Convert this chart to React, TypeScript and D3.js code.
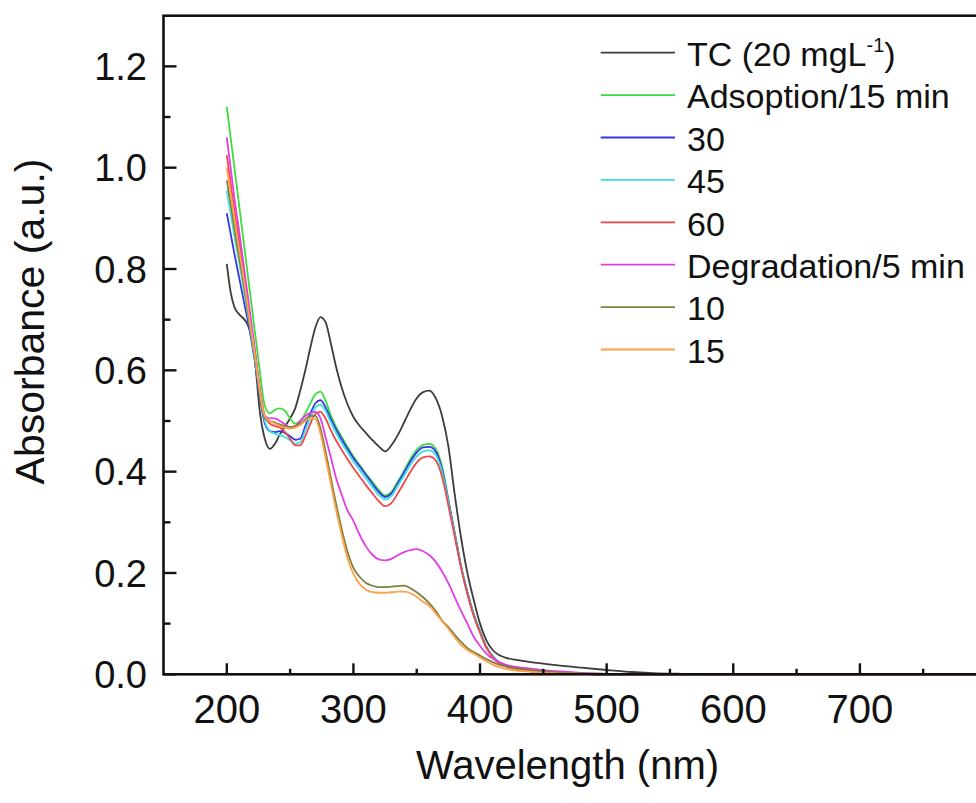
import React from "react";
import * as d3 from "d3";

const wavelengths = [200,203,206,210,214,218,222,226,230,234,238,242,246,250,254,258,262,266,270,274,278,282,286,290,295,300,305,310,315,320,325,330,335,340,345,350,355,360,365,370,375,380,385,390,395,400,405,410,415,420,430,440,450,460,480,500,520,540,560,600,650,700,750,800];

const tc = [0.81,0.755,0.725,0.71,0.7,0.68,0.625,0.52,0.465,0.445,0.455,0.474,0.49,0.505,0.525,0.56,0.6,0.645,0.685,0.705,0.695,0.655,0.61,0.572,0.535,0.508,0.49,0.476,0.462,0.45,0.44,0.452,0.472,0.497,0.523,0.545,0.557,0.56,0.545,0.51,0.45,0.355,0.27,0.2,0.147,0.1,0.067,0.048,0.038,0.033,0.028,0.024,0.021,0.018,0.013,0.0085,0.0045,0.002,0.001,0,0,0,0,0];
const ads15 = [1.12,1.06,1.0,0.92,0.84,0.76,0.68,0.6,0.53,0.515,0.522,0.525,0.52,0.505,0.495,0.5,0.515,0.535,0.553,0.558,0.54,0.512,0.49,0.472,0.45,0.43,0.413,0.396,0.38,0.364,0.353,0.36,0.38,0.402,0.425,0.443,0.453,0.455,0.445,0.41,0.345,0.28,0.215,0.163,0.12,0.085,0.054,0.035,0.022,0.016,0.01,0.006,0.003,0.002,0.001,0,0,0,0,0,0,0,0,0];
const ads30 = [0.91,0.87,0.83,0.78,0.73,0.68,0.62,0.55,0.495,0.48,0.478,0.48,0.476,0.47,0.463,0.465,0.49,0.515,0.535,0.541,0.527,0.505,0.485,0.467,0.446,0.427,0.41,0.393,0.376,0.36,0.35,0.357,0.377,0.398,0.42,0.438,0.448,0.449,0.44,0.405,0.343,0.278,0.213,0.162,0.118,0.084,0.054,0.036,0.024,0.018,0.012,0.008,0.005,0.003,0.001,0,0,0,0,0,0,0,0,0];
const ads45 = [0.955,0.91,0.865,0.81,0.75,0.69,0.625,0.555,0.5,0.48,0.475,0.472,0.468,0.462,0.455,0.458,0.482,0.507,0.527,0.532,0.52,0.498,0.478,0.46,0.44,0.42,0.403,0.386,0.37,0.354,0.345,0.352,0.372,0.392,0.413,0.43,0.44,0.442,0.433,0.4,0.34,0.276,0.212,0.16,0.117,0.083,0.053,0.035,0.023,0.017,0.011,0.007,0.004,0.002,0.001,0,0,0,0,0,0,0,0,0];
const ads60 = [1.025,0.97,0.915,0.85,0.78,0.71,0.64,0.565,0.51,0.495,0.49,0.487,0.478,0.465,0.452,0.452,0.47,0.495,0.514,0.518,0.505,0.483,0.463,0.446,0.426,0.407,0.39,0.373,0.357,0.342,0.332,0.338,0.357,0.378,0.4,0.418,0.428,0.43,0.422,0.39,0.333,0.272,0.21,0.158,0.115,0.082,0.052,0.034,0.022,0.016,0.01,0.006,0.004,0.002,0.001,0,0,0,0,0,0,0,0,0];
const deg5 = [1.06,1.0,0.94,0.87,0.795,0.72,0.645,0.565,0.51,0.505,0.505,0.5,0.493,0.488,0.49,0.5,0.51,0.516,0.518,0.505,0.468,0.43,0.39,0.36,0.325,0.303,0.275,0.252,0.236,0.227,0.225,0.228,0.235,0.241,0.245,0.247,0.243,0.235,0.222,0.203,0.18,0.152,0.125,0.1,0.074,0.056,0.041,0.031,0.024,0.019,0.014,0.011,0.008,0.006,0.003,0.001,0,0,0,0,0,0,0,0];
const deg10 = [0.975,0.93,0.88,0.82,0.76,0.695,0.63,0.555,0.505,0.5,0.497,0.493,0.49,0.488,0.49,0.495,0.503,0.51,0.51,0.485,0.44,0.39,0.34,0.295,0.245,0.21,0.192,0.18,0.175,0.172,0.172,0.173,0.174,0.175,0.17,0.162,0.152,0.14,0.125,0.106,0.093,0.078,0.064,0.052,0.044,0.037,0.03,0.024,0.019,0.016,0.011,0.008,0.006,0.004,0.002,0.001,0,0,0,0,0,0,0,0];
const deg15 = [1.0,0.95,0.9,0.835,0.77,0.7,0.635,0.56,0.51,0.5,0.495,0.49,0.487,0.485,0.487,0.492,0.5,0.505,0.503,0.475,0.428,0.378,0.328,0.283,0.232,0.198,0.178,0.167,0.162,0.161,0.161,0.162,0.163,0.163,0.16,0.153,0.143,0.135,0.12,0.105,0.09,0.073,0.058,0.048,0.041,0.033,0.026,0.019,0.014,0.011,0.007,0.005,0.003,0.002,0.001,0,0,0,0,0,0,0,0,0];

const seriesLabels = ["TC (20 mgL", "Adsoption/15 min", "30", "45", "60", "Degradation/5 min", "10", "15"];
const seriesColors = ["#3c3c3c", "#3ddc3d", "#3535e8", "#3be0e0", "#f04848", "#e23ee2", "#80803c", "#ffa04a"];
const seriesValues = [tc, ads15, ads30, ads45, ads60, deg5, deg10, deg15];

const xMajorTicks = [200, 300, 400, 500, 600, 700];
const xMinorTicks = [250, 350, 450, 550, 650, 750];
const yMajorTicks = [0, 0.2, 0.4, 0.6, 0.8, 1.0, 1.2];
const yMinorTicks = [0.1, 0.3, 0.5, 0.7, 0.9, 1.1];

const FONT = "'Liberation Sans', Arial, Helvetica, sans-serif";

export default function App() {
  const x = d3.scaleLinear().domain([150, 800]).range([163.5, 986.5]);
  const y = d3.scaleLinear().domain([0, 1.3]).range([674.3, 15.7]);
  const line = d3
    .line<number>()
    .x((_, i) => x(wavelengths[i]))
    .y((d) => y(d))
    .curve(d3.curveMonotoneX);

  const legendY = (i: number) => 52.7 + i * 42.4;

  return (
    <svg
      width={976}
      height={803}
      style={{ position: "absolute", left: 0, top: 0, background: "#fff" }}
      fontFamily={FONT}
    >
      <rect x={0} y={0} width={976} height={803} fill="#fff" />
      {seriesValues.map((vals, i) => (
        <path key={i} d={line(vals) || ""} fill="none" stroke={seriesColors[i]} strokeWidth={1.8} strokeLinejoin="round" />
      ))}
      {/* frame */}
      <rect x={x(150)} y={y(1.3)} width={x(800) - x(150)} height={y(0) - y(1.3)} fill="none" stroke="#111" strokeWidth={2.6} />
      {/* x ticks */}
      {xMajorTicks.map((t) => (
        <g key={"xm" + t}>
          <line x1={x(t)} x2={x(t)} y1={y(0)} y2={y(0) - 11} stroke="#111" strokeWidth={2.4} />
          <text x={x(t)} y={723} fontSize={40} textAnchor="middle" fill="#111">{t}</text>
        </g>
      ))}
      {xMinorTicks.map((t) => (
        <line key={"xn" + t} x1={x(t)} x2={x(t)} y1={y(0)} y2={y(0) - 5.5} stroke="#111" strokeWidth={2.4} />
      ))}
      {/* y ticks */}
      {yMajorTicks.map((t) => (
        <g key={"ym" + t}>
          <line x1={x(150)} x2={x(150) + 13} y1={y(t)} y2={y(t)} stroke="#111" strokeWidth={2.4} />
          <text x={147} y={y(t) + 13.6} fontSize={38} textAnchor="end" fill="#111">{t.toFixed(1)}</text>
        </g>
      ))}
      {yMinorTicks.map((t) => (
        <line key={"yn" + t} x1={x(150)} x2={x(150) + 7} y1={y(t)} y2={y(t)} stroke="#111" strokeWidth={2.4} />
      ))}
      {/* axis titles */}
      <text x={567.5} y={779} fontSize={40} textAnchor="middle" fill="#111">Wavelength (nm)</text>
      <text transform="translate(43.5,321.5) rotate(-90)" fontSize={41} textAnchor="middle" fill="#111">Absorbance (a.u.)</text>
      {/* legend */}
      {seriesLabels.map((l, i) => (
        <g key={"lg" + i}>
          <line x1={600.7} x2={675} y1={legendY(i)} y2={legendY(i)} stroke={seriesColors[i]} strokeWidth={1.8} />
          <text x={687} y={legendY(i) + 13.3} fontSize={34} fill="#111">
            {l}
            {i === 0 ? (
              <>
                <tspan fontSize={20} dy={-14}>-1</tspan>
                <tspan dy={14}>)</tspan>
              </>
            ) : null}
          </text>
        </g>
      ))}
    </svg>
  );
}
